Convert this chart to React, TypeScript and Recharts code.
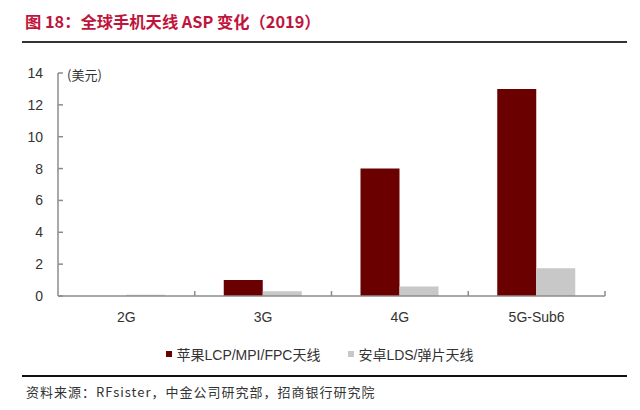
import React from "react";
import { BarChart, Bar, XAxis, YAxis, Legend } from "recharts";

const categories = ["2G", "3G", "4G", "5G-Sub6"];
const appleAsp = [0, 1, 8, 13];
const androidAsp = [0.08, 0.3, 0.6, 1.75];
const yTicks = [0, 2, 4, 6, 8, 10, 12, 14];

const seriesNames = {
  apple: "苹果LCP/MPI/FPC天线",
  android: "安卓LDS/弹片天线",
};

const data = categories.map((c, i) => ({
  name: c,
  apple: appleAsp[i],
  android: androidAsp[i],
}));

const W = 640;
const H = 410;
const LEFT = 58;
const RIGHT = 35;
const band = (W - LEFT - RIGHT) / categories.length;
const axisColor = "#8c8c8c";
const latin = '"Liberation Sans", Arial, "Noto Sans CJK SC", sans-serif';
const cjk = '"Noto Sans CJK SC", "Liberation Sans", sans-serif';

function XTick(props: any) {
  const { x, y, payload } = props;
  const edge = x + band / 2;
  return (
    <g>
      <line x1={edge} x2={edge} y1={y} y2={y - 5} stroke={axisColor} strokeWidth={1.5} />
      <text x={x} y={y + 26} textAnchor="middle" fill="#333" fontSize={14} fontFamily={latin}>
        {payload.value}
      </text>
    </g>
  );
}

function YTick(props: any) {
  const { x, y, payload } = props;
  return (
    <g>
      <line x1={x} x2={x + 5} y1={y} y2={y} stroke={axisColor} strokeWidth={1.5} />
      <text x={x - 15} y={y + 5} textAnchor="end" fill="#333" fontSize={14} fontFamily={latin}>
        {payload.value}
      </text>
    </g>
  );
}

function LegendContent() {
  const items = [
    { label: seriesNames.apple, color: "#6b0000" },
    { label: seriesNames.android, color: "#c8c8c8" },
  ];
  return (
    <div style={{ display: "flex", justifyContent: "center", gap: 28 }}>
      {items.map((it) => (
        <div key={it.label} style={{ display: "flex", alignItems: "center", gap: 4 }}>
          <div style={{ width: 6, height: 6, background: it.color }} />
          <span style={{ fontSize: 14, color: "#333", fontFamily: latin }}>{it.label}</span>
        </div>
      ))}
    </div>
  );
}

export default function App() {
  return (
    <div style={{ position: "absolute", left: 0, top: 0, width: W, height: H, background: "#fff" }}>
      <div
        style={{
          position: "absolute",
          left: 25,
          top: 9,
          fontSize: 16.3,
          fontWeight: 700,
          color: "#c0143c",
          fontFamily: cjk,
          lineHeight: "24px",
          whiteSpace: "nowrap",
        }}
      >
        图 18：全球手机天线 ASP 变化（2019）
      </div>
      <div style={{ position: "absolute", left: 22, top: 41, width: 605, height: 2, background: "#333" }} />
      <div
        style={{
          position: "absolute",
          left: 67,
          top: 66,
          fontSize: 13,
          color: "#333",
          fontFamily: cjk,
          lineHeight: "18px",
          whiteSpace: "nowrap",
        }}
      >
        (美元)
      </div>
      <BarChart
        width={W}
        height={H}
        data={data}
        margin={{ top: 73, right: RIGHT, bottom: 84, left: 0 }}
        barGap={0}
        barSize={39}
      >
        <XAxis
          dataKey="name"
          height={30}
          tickSize={0}
          tickMargin={0}
          tickLine={false}
          axisLine={{ stroke: axisColor, strokeWidth: 1.5 }}
          tick={<XTick />}
          interval={0}
        />
        <YAxis
          width={LEFT}
          domain={[0, 14]}
          ticks={yTicks}
          tickSize={0}
          tickMargin={0}
          tickLine={false}
          axisLine={{ stroke: axisColor, strokeWidth: 1.5 }}
          tick={<YTick />}
        />
        <Legend
          verticalAlign="middle"
          align="center"
          layout="horizontal"
          content={<LegendContent />}
          wrapperStyle={{ position: "absolute", top: 344, left: 0, width: W, bottom: "auto" }}
        />
        <Bar dataKey="apple" name={seriesNames.apple} fill="#6b0000" isAnimationActive={false} />
        <Bar dataKey="android" name={seriesNames.android} fill="#c8c8c8" isAnimationActive={false} />
      </BarChart>
      <div style={{ position: "absolute", left: 22, top: 375, width: 605, height: 1.5, background: "#111" }} />
      <div
        style={{
          position: "absolute",
          left: 26,
          top: 383,
          fontSize: 13,
          letterSpacing: 1,
          color: "#333",
          fontFamily: cjk,
          lineHeight: "18px",
          whiteSpace: "nowrap",
        }}
      >
        资料来源：RFsister，中金公司研究部，招商银行研究院
      </div>
    </div>
  );
}
